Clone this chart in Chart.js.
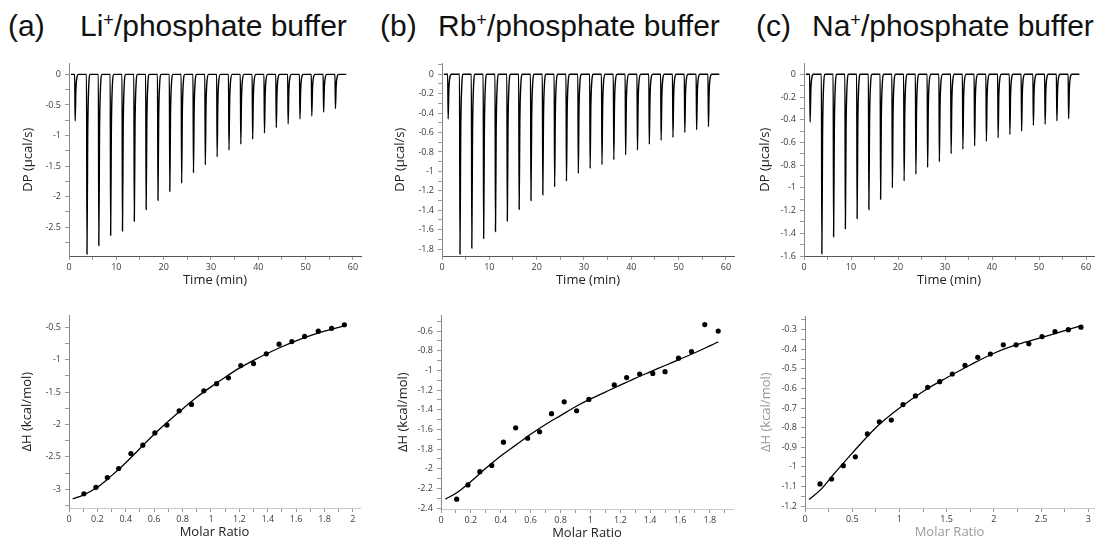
<!DOCTYPE html>
<html><head><meta charset="utf-8">
<script src="https://cdn.jsdelivr.net/npm/chart.js@4.4.1/dist/chart.umd.min.js"></script>
<style>
html,body{margin:0;padding:0;background:#fff;overflow:hidden;width:1096px;height:548px;}
.t{position:absolute;font-family:"Liberation Sans",Arial,sans-serif;font-size:30px;color:#111;white-space:nowrap;top:11px;line-height:1;}
.t sup{font-size:0.6em;vertical-align:0.55em;line-height:0;}
canvas{position:absolute;}
</style></head><body>
<div class="t" style="left:8px">(a)</div><div class="t" style="left:80px">Li<sup>+</sup>/phosphate buffer</div>
<div class="t" style="left:380px">(b)</div><div class="t" style="left:438px">Rb<sup>+</sup>/phosphate buffer</div>
<div class="t" style="left:756px">(c)</div><div class="t" style="left:812px">Na<sup>+</sup>/phosphate buffer</div>
<script>
// ---------- raw thermogram data (top row) ----------
const injTimes = [1.2,3.7,6.2,8.7,11.2,13.7,16.2,18.7,21.2,23.7,26.2,28.7,31.2,33.7,36.2,38.7,41.2,43.7,46.2,48.7,51.2,53.7,56.2];
const peaksLi = [-0.76,-2.94,-2.80,-2.63,-2.56,-2.40,-2.21,-2.06,-1.91,-1.78,-1.61,-1.48,-1.35,-1.24,-1.14,-1.06,-0.96,-0.87,-0.81,-0.73,-0.68,-0.62,-0.56];
const peaksRb = [-0.46,-1.85,-1.79,-1.69,-1.62,-1.51,-1.39,-1.30,-1.24,-1.16,-1.10,-1.02,-0.97,-0.93,-0.88,-0.83,-0.78,-0.72,-0.68,-0.65,-0.60,-0.57,-0.54];
const peaksNa = [-0.42,-1.58,-1.43,-1.36,-1.27,-1.19,-1.10,-1.00,-0.94,-0.88,-0.82,-0.77,-0.70,-0.66,-0.63,-0.59,-0.56,-0.53,-0.50,-0.45,-0.44,-0.41,-0.39];
const traceRange = [0.4, 58.6];
// spike profile (time offset after injection, fraction of peak depth)
const spikeDt = [0, 0.1, 0.25, 0.45, 0.8];
const spikeFrac = [0, 1, 0.35, 0.08, 0];

// ---------- integrated heats (bottom row) ----------
const mrLi = [0.105,0.19,0.27,0.35,0.436,0.52,0.605,0.69,0.776,0.863,0.95,1.04,1.123,1.21,1.30,1.39,1.48,1.57,1.66,1.756,1.85,1.94];
const dhLi = [-3.07,-2.97,-2.82,-2.68,-2.45,-2.32,-2.13,-2.01,-1.79,-1.69,-1.48,-1.37,-1.28,-1.09,-1.06,-0.91,-0.76,-0.72,-0.64,-0.56,-0.515,-0.46];
const fitLiX = [0.026,0.1,0.2,0.3,0.4,0.5,0.6,0.7,0.8,0.9,1.0,1.1,1.2,1.3,1.4,1.5,1.6,1.7,1.8,1.9,1.95];
const fitLiY = [-3.15,-3.09,-2.97,-2.79,-2.59,-2.37,-2.15,-1.95,-1.76,-1.58,-1.42,-1.27,-1.13,-1.01,-0.90,-0.80,-0.71,-0.63,-0.56,-0.50,-0.47];

const mrRb = [0.105,0.18,0.26,0.34,0.418,0.50,0.58,0.66,0.74,0.825,0.908,0.99,1.16,1.243,1.33,1.418,1.50,1.59,1.677,1.766,1.856];
const dhRb = [-2.31,-2.165,-2.03,-1.967,-1.73,-1.584,-1.69,-1.624,-1.44,-1.319,-1.41,-1.295,-1.147,-1.073,-1.037,-1.03,-1.013,-0.875,-0.808,-0.533,-0.60];
const fitRbX = [0.03,0.1,0.2,0.3,0.4,0.5,0.6,0.7,0.8,0.9,1.0,1.1,1.2,1.3,1.4,1.5,1.6,1.7,1.8,1.856];
const fitRbY = [-2.31,-2.25,-2.13,-1.995,-1.87,-1.76,-1.65,-1.55,-1.46,-1.37,-1.29,-1.22,-1.15,-1.08,-1.015,-0.95,-0.885,-0.82,-0.75,-0.71];

const mrNa = [0.159,0.282,0.406,0.533,0.66,0.787,0.914,1.038,1.169,1.299,1.426,1.56,1.694,1.829,1.963,2.1,2.235,2.37,2.51,2.647,2.788,2.922];
const dhNa = [-1.087,-1.062,-0.994,-0.949,-0.832,-0.770,-0.761,-0.682,-0.638,-0.594,-0.565,-0.526,-0.482,-0.441,-0.424,-0.377,-0.377,-0.371,-0.335,-0.310,-0.300,-0.287];
const fitNaX = [0.042,0.166,0.3,0.5,0.75,1.0,1.25,1.5,1.75,2.0,2.25,2.5,2.75,2.92];
const fitNaY = [-1.167,-1.116,-1.04,-0.93,-0.80,-0.70,-0.615,-0.545,-0.48,-0.42,-0.375,-0.34,-0.305,-0.28];

// ---------- tick labels ----------
const timeTicks = [0,10,20,30,40,50,60];
const dpTicksLi = [0,-0.5,-1,-1.5,-2,-2.5];
const dpTicksRb = [0,-0.2,-0.4,-0.6,-0.8,-1,-1.2,-1.4,-1.6,-1.8];
const dpTicksNa = [0,-0.2,-0.4,-0.6,-0.8,-1,-1.2,-1.4,-1.6];
const mrTicksLi = [0,0.2,0.4,0.6,0.8,1,1.2,1.4,1.6,1.8,2];
const mrTicksRb = [0,0.2,0.4,0.6,0.8,1,1.2,1.4,1.6,1.8];
const mrTicksNa = [0,0.5,1,1.5,2,2.5,3];
const dhTicksLi = [-0.5,-1,-1.5,-2,-2.5,-3];
const dhTicksRb = [-0.6,-0.8,-1,-1.2,-1.4,-1.6,-1.8,-2,-2.2,-2.4];
const dhTicksNa = [-0.3,-0.4,-0.5,-0.6,-0.7,-0.8,-0.9,-1,-1.1,-1.2];

const FONT = '"Open Sans","Noto Sans",sans-serif';

function thermogram(times, peaks){
  const pts = [{x:traceRange[0], y:0}];
  times.forEach((t,i)=>{
    spikeDt.forEach((d,k)=>pts.push({x:t+d, y:peaks[i]*spikeFrac[k]}));
  });
  pts.push({x:traceRange[1], y:0});
  return pts;
}
function xy(xs, ys){ return xs.map((x,i)=>({x, y:ys[i]})); }

function allTicks(lo, hi, step){
  const out=[]; const s=Math.ceil(lo/step-1e-9), e=Math.floor(hi/step+1e-9);
  for(let k=s;k<=e;k++) out.push(+(k*step).toFixed(4));
  return out;
}
function axis(cfg, isX){
  const majors = cfg.labels;
  return {
    type:'linear', min:cfg.min, max:cfg.max,
    afterFit(s){ if(isX) s.height=40; else s.width=70; },
    afterBuildTicks(s){ s.ticks = allTicks(cfg.min, cfg.max, cfg.minor).map(v=>({value:v})); },
    ticks:{
      autoSkip:false, maxRotation:0, padding: isX?2:4,
      font:{family:FONT,size:9}, color:'#3a3a3a',
      callback(v){ const hit = majors.find(m=>Math.abs(m-v)<1e-6); return hit===undefined? '' : String(hit); }
    },
    grid:{drawOnChartArea:false, drawTicks:true, tickLength:4, tickColor:'#9a9a9a'},
    border:{display:true, color:cfg.border, width:1},
    title:{display:true, text:cfg.title, color:cfg.titleColor||'#222', font:{family:FONT,size:13},
      padding: isX? {top:0,bottom:cfg.tpad} : {top:cfg.tpad,bottom:0}}
  };
}
function panel(box, xcfg, ycfg, datasets){
  const c = document.createElement('canvas');
  const w = (box.r-box.l)+78, h = (box.b-box.t)+48;
  c.width=w; c.height=h;
  c.style.left=(box.l-70)+'px'; c.style.top=(box.t-8)+'px';
  c.style.width=w+'px'; c.style.height=h+'px';
  document.body.appendChild(c);
  new Chart(c, {
    type:'line',
    data:{datasets},
    options:{
      responsive:false, animation:false, devicePixelRatio:1,
      layout:{padding:{top:8,right:8,left:0,bottom:0}, autoPadding:false},
      plugins:{legend:{display:false}, tooltip:{enabled:false}},
      scales:{x:axis(xcfg,true), y:axis(ycfg,false)}
    }
  });
}
function traceDS(pts){ return {data:pts, borderColor:'#000', borderWidth:1.4, pointRadius:0, fill:false, cubicInterpolationMode:'monotone'}; }
function fitDS(pts){ return {data:pts, borderColor:'#000', borderWidth:1.3, pointRadius:0, fill:false, cubicInterpolationMode:'monotone'}; }
function ptsDS(pts){ return {data:pts, showLine:false, pointRadius:2.6, pointBackgroundColor:'#000', pointBorderColor:'#000', pointBorderWidth:0}; }

const xTop = {min:0, max:61.7, minor:5, labels:timeTicks, title:'Time (min)', border:'#555', tpad:8};
panel({l:69,r:361,t:62,b:256}, xTop,
  {min:-2.97,max:0.18,minor:0.25,labels:dpTicksLi,title:'DP (µcal/s)',border:'#888',tpad:21},
  [traceDS(thermogram(injTimes,peaksLi))]);
panel({l:442,r:734,t:62,b:256}, xTop,
  {min:-1.871,max:0.112,minor:0.1,labels:dpTicksRb,title:'DP (µcal/s)',border:'#888',tpad:20},
  [traceDS(thermogram(injTimes,peaksRb))]);
panel({l:804,r:1094,t:62,b:256}, xTop,
  {min:-1.6,max:0.096,minor:0.1,labels:dpTicksNa,title:'DP (µcal/s)',border:'#888',tpad:23},
  [traceDS(thermogram(injTimes,peaksNa))]);

panel({l:69,r:360,t:314,b:508},
  {min:0,max:2.05,minor:0.1,labels:mrTicksLi,title:'Molar Ratio',border:'#c8c8c8',tpad:8},
  {min:-3.29,max:-0.316,minor:0.25,labels:dhTicksLi,title:'ΔH (kcal/mol)',border:'#888',tpad:20},
  [fitDS(xy(fitLiX,fitLiY)), ptsDS(xy(mrLi,dhLi))]);
panel({l:441,r:733,t:314,b:509},
  {min:0,max:1.955,minor:0.1,labels:mrTicksRb,title:'Molar Ratio',border:'#c8c8c8',tpad:8},
  {min:-2.41,max:-0.44,minor:0.1,labels:dhTicksRb,title:'ΔH (kcal/mol)',border:'#888',tpad:24},
  [fitDS(xy(fitRbX,fitRbY)), ptsDS(xy(mrRb,dhRb))]);
panel({l:805,r:1094,t:315,b:508},
  {min:0,max:3.06,minor:0.25,labels:mrTicksNa,title:'Molar Ratio',border:'#c8c8c8',tpad:8,titleColor:'#999'},
  {min:-1.21,max:-0.232,minor:0.05,labels:dhTicksNa,title:'ΔH (kcal/mol)',border:'#888',tpad:23,titleColor:'#999'},
  [fitDS(xy(fitNaX,fitNaY)), ptsDS(xy(mrNa,dhNa))]);
</script>
</body></html>
